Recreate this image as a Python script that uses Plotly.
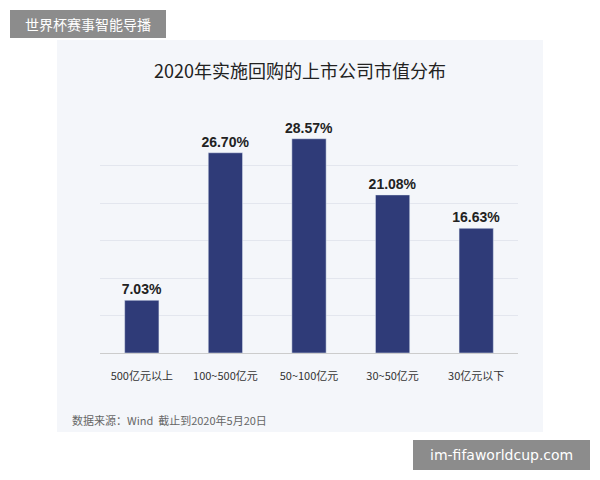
import plotly.graph_objects as go

categories = ["500亿元以上", "100~500亿元", "50~100亿元", "30~50亿元", "30亿元以下"]
values = [7.03, 26.70, 28.57, 21.08, 16.63]
labels = ["<b>7.03%</b>", "<b>26.70%</b>", "<b>28.57%</b>", "<b>21.08%</b>", "<b>16.63%</b>"]

W, H = 600, 480
OX, OY = 8, 8  # page body margin offset
def px(x): return (x - OX) / W
def py(y): return 1 - (y - OY) / H

fig = go.Figure(go.Bar(
    x=categories, y=values, text=labels, textposition="outside", constraintext="none",
    textfont=dict(size=14, color="#222", family="Liberation Sans"),
    marker_color="#2f3b78", width=0.41, cliponaxis=False,
))
def ann(text, x, y, size, color, family, xanchor="center"):
    return dict(text=text, x=px(x), y=py(y), xref="paper", yref="paper", xanchor=xanchor,
                yanchor="middle", showarrow=False, font=dict(size=size, color=color, family=family))
fig.update_layout(
    width=W, height=H, margin=dict(l=0, r=0, t=0, b=0),
    paper_bgcolor="white", plot_bgcolor="rgba(0,0,0,0)", showlegend=False,
    xaxis=dict(domain=[px(100), px(518)], showline=True, linecolor="#ccc",
               tickfont=dict(size=11, color="#333", family="Noto Sans CJK SC"), ticks="",
               ticklabelstandoff=13),
    yaxis=dict(domain=[py(353), py(128)], range=[0, 30], dtick=5, showticklabels=False,
               showgrid=True, gridcolor="#e3e6ee", zeroline=False),
    shapes=[
        dict(type="rect", xref="paper", yref="paper", x0=px(57), x1=px(543), y0=py(432), y1=py(40),
             fillcolor="#f4f6fa", line_width=0, layer="below"),
        dict(type="rect", xref="paper", yref="paper", x0=px(10), x1=px(166), y0=py(38), y1=py(10),
             fillcolor="#8c8c8c", line_width=0, layer="below"),
        dict(type="rect", xref="paper", yref="paper", x0=px(413), x1=px(590), y0=py(470), y1=py(440),
             fillcolor="#8c8c8c", line_width=0, layer="below"),
    ],
    annotations=[
        ann("2020年实施回购的上市公司市值分布", 300, 70, 18, "#222", "Noto Sans CJK SC"),
        ann("数据来源：Wind  截止到2020年5月20日", 70, 420, 11, "#666", "Noto Sans CJK SC", "left"),
        ann("世界杯赛事智能导播", 88, 24, 14, "white", "Noto Sans CJK SC"),
        ann("im-fifaworldcup.com", 501, 455, 14, "white", "DejaVu Sans"),
    ],
)
fig.write_html("out.html")
